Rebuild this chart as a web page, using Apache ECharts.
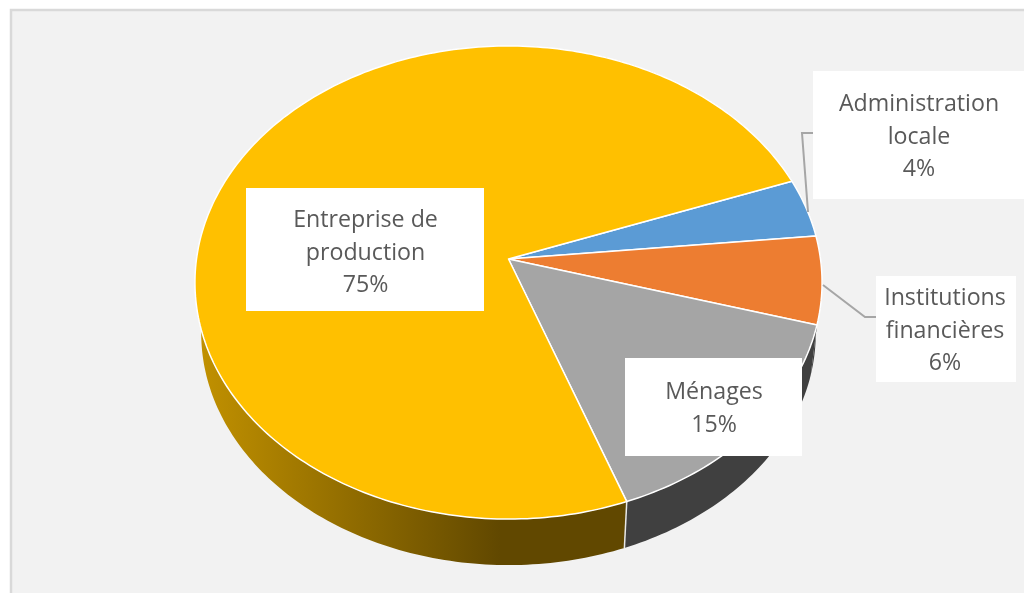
<!DOCTYPE html>
<html><head><meta charset="utf-8">
<style>html,body{margin:0;padding:0;background:#fff}#c{width:1024px;height:593px}</style>
<script src="https://cdn.jsdelivr.net/npm/echarts@6/dist/echarts.min.js"></script>
</head><body><div id="c"></div>
<script>
// Data, in drawing order (clockwise from the start angle)
const categories = ['Administration\nlocale', 'Institutions\nfinancières', 'Ménages', 'Entreprise de\nproduction'];
const shares = [4, 6, 15, 75];
const topColors = ['#5B9BD5', '#ED7D31', '#A5A5A5', '#FFC000'];

// Perspective pie geometry
const startDeg = 69.9, apexX = 508.5, apexY = 259, radX = 312, radY = 234.2, persp = 0.0994;
const depthScale = 0.98, depthShift = 56.4;
const boxes = [
  {x: 813, y: 71, w: 211, h: 128, tx: 919, ty: 137, leader: [[808, 212], [802, 133], [813, 133]]},
  {x: 876, y: 276, w: 140, h: 106, tx: 945, ty: 331, leader: [[823, 285], [865, 317], [876, 317]]},
  {x: 625, y: 358, w: 177, h: 98, tx: 714, ty: 409},
  {x: 246, y: 188, w: 238, h: 123, tx: 365.5, ty: 253}
];

const total = shares.reduce((a, b) => a + b, 0);
const spans = []; let acc = startDeg;
shares.forEach(v => { const d = v / total * 360; spans.push([acc, acc + d]); acc += d; });

function topPt(deg) {
  const t = deg * Math.PI / 180, x = Math.sin(t), y = -Math.cos(t), w = 1 - persp * y;
  return [apexX + radX * x / w, apexY + radY * y / w];
}
function lowPt(deg) {
  const p = topPt(deg);
  return [apexX + (p[0] - apexX) * depthScale, p[1] * depthScale + depthShift];
}
function arc(fn, a, b) {
  const out = [], n = Math.max(2, Math.ceil(Math.abs(b - a)));
  for (let i = 0; i <= n; i++) out.push(fn(a + (b - a) * i / n));
  return out;
}
const sideFill = [
  '#404040', '#404040', '#404040',
  new echarts.graphic.LinearGradient(203, 0, 500, 0, [
    {offset: 0, color: '#C09000'}, {offset: 1, color: '#614800'}], true)
];

const chart = echarts.init(document.getElementById('c'), null, {renderer: 'canvas'});
const rows = shares.map((v, i) => [i, v]);
chart.setOption({
  animation: false,
  backgroundColor: '#ffffff',
  graphic: [
    {type: 'rect', z: 0, shape: {x: 11, y: 10, width: 1030, height: 600},
     style: {fill: '#F2F2F2', stroke: '#D9D9D9', lineWidth: 2.5}}
  ],
  series: [
    {type: 'custom', coordinateSystem: 'none', z: 2, silent: true, data: rows,
     renderItem(p, api) {
       const i = api.value(0), s = spans[i];
       const kids = [{type: 'polygon', shape: {points: arc(topPt, s[0], s[1]).concat(arc(lowPt, s[1], s[0]))},
          style: {fill: sideFill[i]}}];
       if (i === 3) kids.push({type: 'polyline', shape: {points: [topPt(s[0]), lowPt(s[0])]},
          style: {fill: 'none', stroke: '#E8E8E8', lineWidth: 1.5}});
       return {type: 'group', children: kids};
     }},
    {type: 'custom', coordinateSystem: 'none', z: 3, silent: true, data: rows,
     renderItem(p, api) {
       const i = api.value(0), s = spans[i];
       return {type: 'polygon',
         shape: {points: [[apexX, apexY]].concat(arc(topPt, s[0], s[1]))},
         style: {fill: topColors[i], stroke: '#FFFFFF', lineWidth: 1.5, lineJoin: 'round'}};
     }},
    {type: 'custom', coordinateSystem: 'none', z: 4, silent: true, data: rows,
     renderItem(p, api) {
       const i = api.value(0), b = boxes[i], kids = [];
       if (b.leader) kids.push({type: 'polyline', shape: {points: b.leader},
         style: {fill: 'none', stroke: '#A6A6A6', lineWidth: 2}});
       kids.push({type: 'rect', shape: {x: b.x, y: b.y, width: b.w, height: b.h}, style: {fill: '#FFFFFF'}});
       kids.push({type: 'text', style: {
         x: b.tx, y: b.ty, align: 'center', verticalAlign: 'middle',
         text: categories[i] + '\n' + api.value(1) + '%',
         font: '400 23.2px "Open Sans"', lineHeight: 32.5, fill: '#595959'}});
       return {type: 'group', children: kids};
     }}
  ]
});
</script></body></html>
